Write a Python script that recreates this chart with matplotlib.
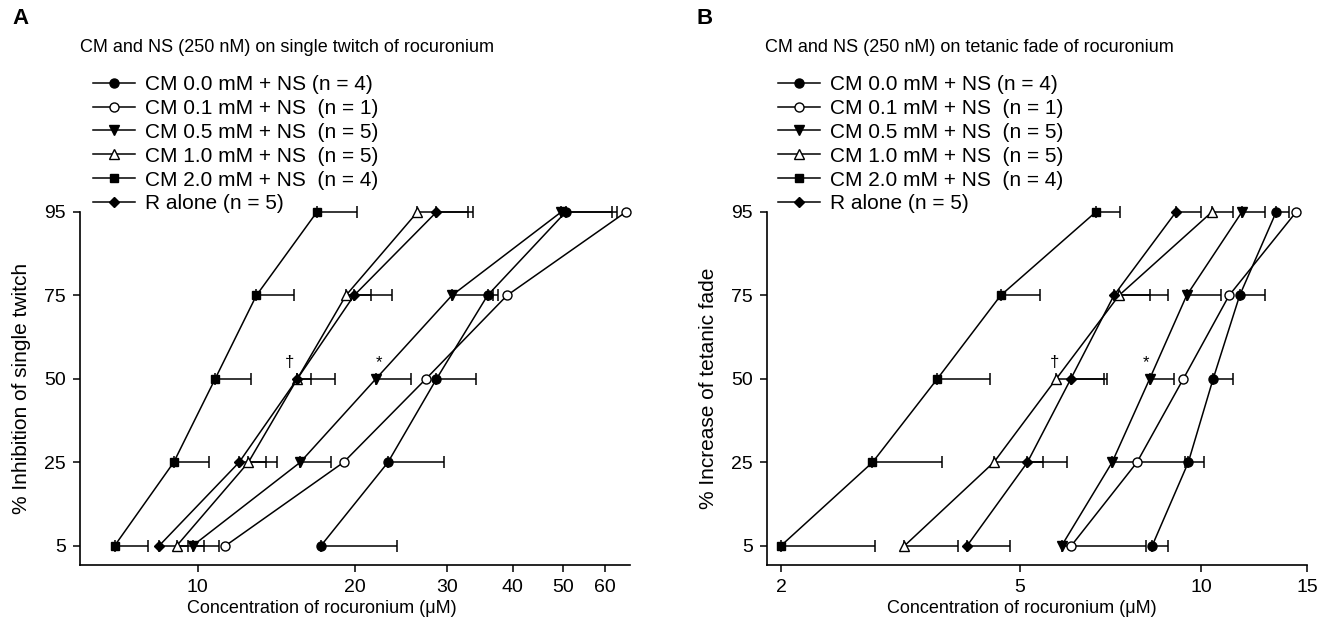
import numpy as np
import matplotlib
matplotlib.use("Agg")
from matplotlib import pyplot as plt
from matplotlib.lines import Line2D
from matplotlib.ticker import FixedLocator, NullLocator, FixedFormatter

plt.rcParams['font.family'] = ['Liberation Sans', 'DejaVu Sans']

# y categories (equally spaced)
levels = ['5', '25', '50', '75', '95']

labels = ['CM 0.0 mM + NS (n = 4)', 'CM 0.1 mM + NS  (n = 1)', 'CM 0.5 mM + NS  (n = 5)',
          'CM 1.0 mM + NS  (n = 5)', 'CM 2.0 mM + NS  (n = 4)', 'R alone (n = 5)']

# panel A: single twitch, concentration (uM) and upper error
a_cm00 = [17.2, 23.1, 28.6, 35.8, 50.5]
a_cm00_hi = [24.0, 29.5, 34.0, 37.5, 63.3]
a_cm01 = [11.3, 19.0, 27.3, 39.0, 65.8]
a_cm05 = [9.78, 15.7, 21.9, 30.6, 49.5]
a_cm05_hi = [11.0, 18.0, 25.6, 36.7, 61.9]
a_cm10 = [9.12, 12.5, 15.5, 19.2, 26.3]
a_cm10_hi = [10.3, 14.2, 16.5, 21.4, 32.8]
a_cm20 = [6.94, 9.0, 10.8, 12.95, 16.9]
a_cm20_hi = [8.03, 10.5, 12.67, 15.3, 20.2]
a_ralone = [8.44, 12.0, 15.5, 19.9, 28.6]
a_ralone_hi = [9.6, 13.5, 18.3, 23.5, 33.6]

# panel B: tetanic fade
b_cm00 = [8.29, 9.52, 10.47, 11.59, 13.33]
b_cm00_hi = [8.80, 10.12, 11.29, 12.77, 13.98]
b_cm01 = [6.08, 7.82, 9.34, 11.13, 14.39]
b_cm05 = [5.86, 7.11, 8.21, 9.46, 11.69]
b_cm05_hi = [8.11, 9.40, 9.0, 10.8, 12.76]
b_cm10 = [3.21, 4.52, 5.74, 7.30, 10.42]
b_cm10_hi = [3.94, 5.46, 6.89, 8.22, 11.3]
b_cm20 = [2.0, 2.84, 3.64, 4.64, 6.68]
b_cm20_hi = [2.87, 3.71, 4.46, 5.40, 7.34]
b_ralone = [4.08, 5.14, 6.07, 7.16, 9.08]
b_ralone_hi = [4.80, 5.99, 6.98, 8.80, 10.0]

styles = [dict(marker='o', mfc='black', ms=6.5),
          dict(marker='o', mfc='white', ms=6.5),
          dict(marker='v', mfc='black', ms=7.5),
          dict(marker='^', mfc='white', ms=7),
          dict(marker='s', mfc='black', ms=6),
          dict(marker='D', mfc='black', ms=5.5)]

W, H = 1320, 631
fig = plt.figure(figsize=(W / 100, H / 100), dpi=100)


def panel(rect, series, errs, xlim, xticks, ylabel, title, letter, lx, marks, xlab_x):
    ax = fig.add_axes(rect)
    y = np.arange(len(levels))
    for i, xs in enumerate(series):
        hi = errs[i]
        if hi is not None:
            xs_a = np.array(xs)
            err = [np.zeros(len(xs)), np.array(hi) - xs_a]
            ax.errorbar(xs, y, xerr=err, fmt='none', ecolor='black', elinewidth=1.1,
                        capsize=4.2, capthick=1.1, clip_on=False, zorder=2)
    for xs, st in zip(series, styles):
        ax.plot(xs, y, color='black', lw=1.1, mec='black', mew=1.0, clip_on=False, zorder=3, **st)
    ax.set_xscale('log')
    ax.set_xlim(*xlim)
    ax.set_ylim(-0.23, 4)
    ax.xaxis.set_major_locator(FixedLocator(xticks))
    ax.xaxis.set_major_formatter(FixedFormatter([str(t) for t in xticks]))
    ax.xaxis.set_minor_locator(NullLocator())
    ax.set_yticks(y)
    ax.set_yticklabels(levels)
    for s in ['top', 'right']:
        ax.spines[s].set_visible(False)
    for s in ['left', 'bottom']:
        ax.spines[s].set_linewidth(1.2)
    ax.tick_params(direction='out', length=5, width=1.1, labelsize=14, pad=5)
    ax.set_xlabel('Concentration of rocuronium (\u03bcM)', fontsize=13)
    ax.xaxis.set_label_coords(xlab_x, -0.1)
    ax.set_ylabel(ylabel, fontsize=15)
    ax.yaxis.set_label_coords(-0.089 * 550 / rect[2] / W, 0.5)
    for txt, xv, yv in marks:
        ax.annotate(txt, (xv, yv), xytext=(0, 12), textcoords='offset points',
                    ha='center', va='center', fontsize=12)
    handles = [Line2D([], [], color='black', lw=1.1, mec='black', mew=1.0, **st) for st in styles]
    fig.legend(handles, labels, loc='upper left', bbox_to_anchor=(lx / W, 1 - 75 / H),
               frameon=False, fontsize=15, handlelength=2.0, handletextpad=0.48,
               labelspacing=0.235, borderpad=0, borderaxespad=0)
    fig.text((lx - 13) / W, 1 - 48 / H, title, fontsize=13, va='center', ha='left')
    fig.text((lx - 81) / W, 1 - 18 / H, letter, fontsize=16, fontweight='bold', va='center', ha='left')
    return ax


panel([80 / W, 1 - 565 / H, 550 / W, 353 / H],
      [a_cm00, a_cm01, a_cm05, a_cm10, a_cm20, a_ralone],
      [a_cm00_hi, None, a_cm05_hi, a_cm10_hi, a_cm20_hi, a_ralone_hi],
      (5.96, 67), [10, 20, 30, 40, 50, 60],
      '% Inhibition of single twitch',
      'CM and NS (250 nM) on single twitch of rocuronium', 'A', 93,
      [('\u2020', 15.0, 2), ('*', 22.2, 2)], 0.44)

panel([767 / W, 1 - 565 / H, 540 / W, 353 / H],
      [b_cm00, b_cm01, b_cm05, b_cm10, b_cm20, b_ralone],
      [b_cm00_hi, None, b_cm05_hi, b_cm10_hi, b_cm20_hi, b_ralone_hi],
      (1.896, 15), [2, 5, 10, 15],
      '% Increase of tetanic fade',
      'CM and NS (250 nM) on tetanic fade of rocuronium', 'B', 778,
      [('\u2020', 5.7, 2), ('*', 8.11, 2)], 0.472)

fig.savefig('out.png', dpi=100)
